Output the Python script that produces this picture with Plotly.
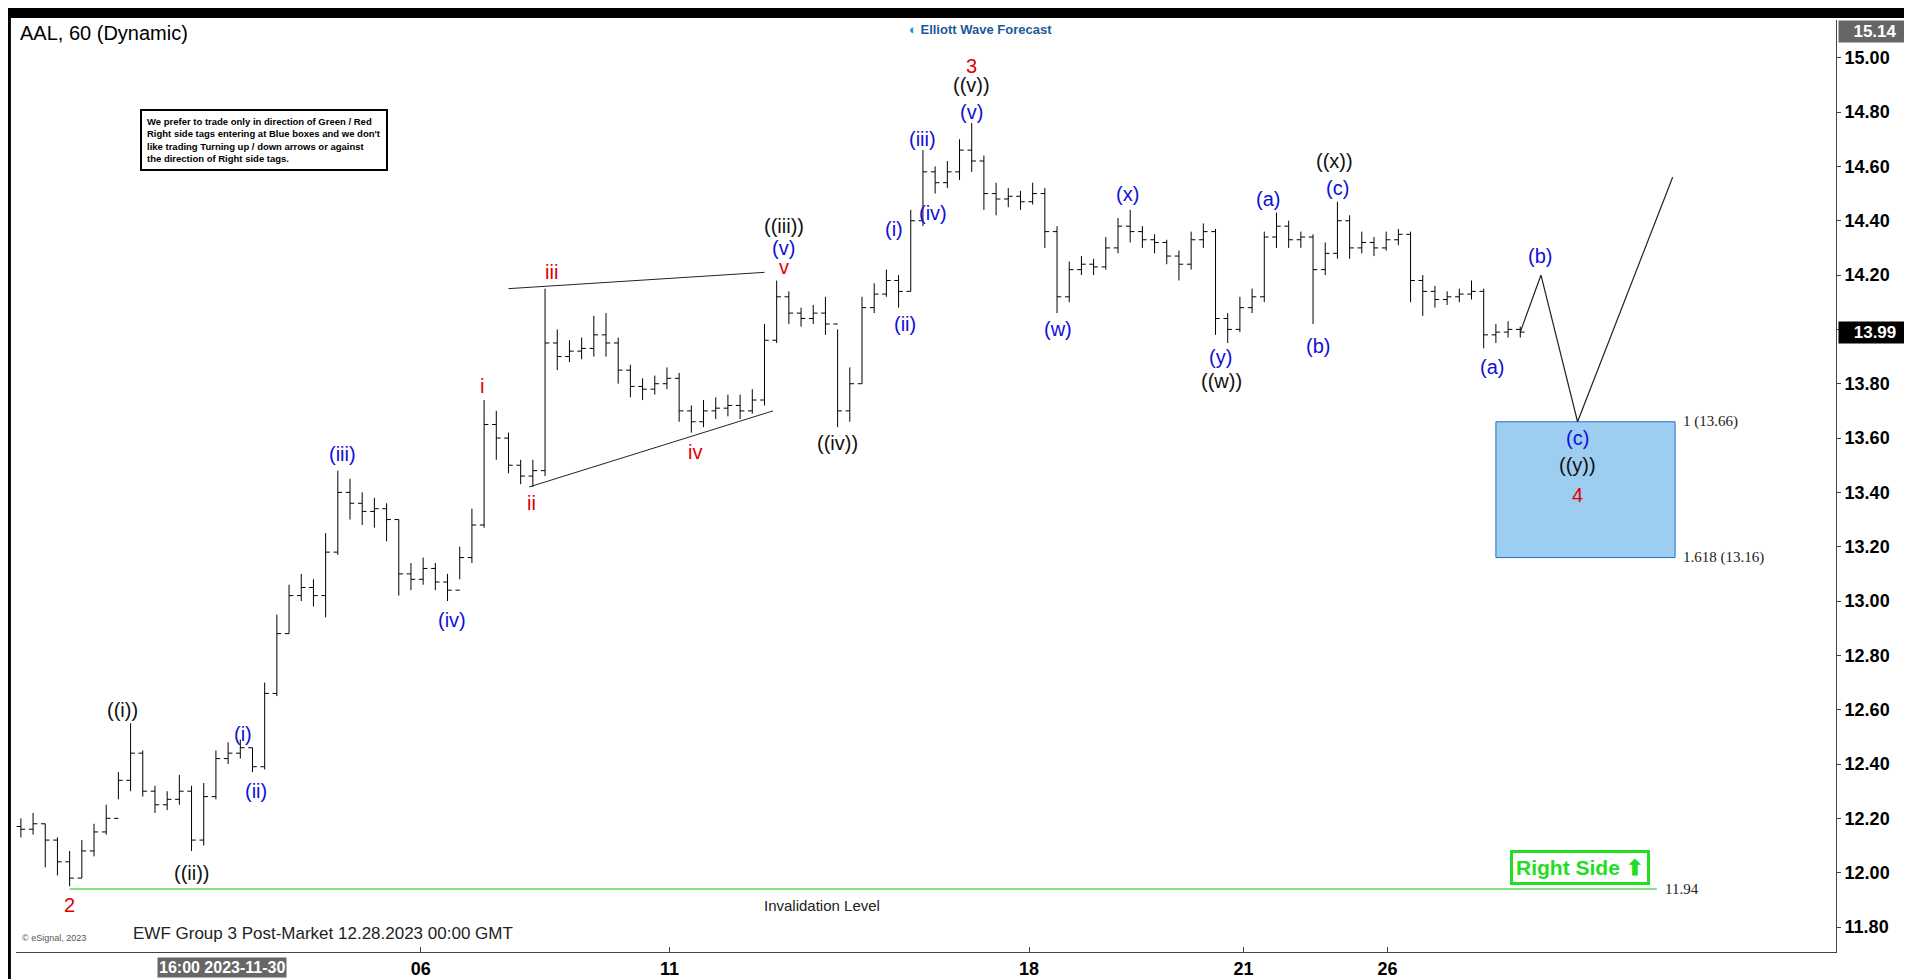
import plotly.graph_objects as go

# hourly AAL bars, x = bar index
close = [12.17, 12.16, 12.18, 12.12, 12.04, 11.98, 12.08, 12.15, 12.20, 12.34,
         12.44, 12.30, 12.25, 12.27, 12.30, 12.12, 12.28, 12.42, 12.44, 12.46,
         12.39, 12.66, 12.88, 13.02, 13.05, 13.02, 13.18, 13.40, 13.36, 13.33,
         13.34, 13.30, 13.10, 13.08, 13.12, 13.07, 13.04, 13.16, 13.28, 13.65,
         13.60, 13.50, 13.46, 13.48, 13.95, 13.90, 13.92, 13.93, 13.98, 13.95,
         13.85, 13.79, 13.78, 13.80, 13.82, 13.70, 13.66, 13.70, 13.71, 13.72,
         13.70, 13.74, 13.96, 14.12, 14.06, 14.04, 14.06, 14.02, 13.70, 13.80,
         14.08, 14.13, 14.18, 14.14, 14.40, 14.58, 14.54, 14.58, 14.66, 14.62,
         14.50, 14.48, 14.49, 14.47, 14.50, 14.36, 14.12, 14.22, 14.24, 14.23,
         14.30, 14.38, 14.36, 14.33, 14.32, 14.27, 14.24, 14.33, 14.36, 14.04,
         14.00, 14.08, 14.12, 14.34, 14.38, 14.33, 14.34, 14.22, 14.28, 14.40,
         14.30, 14.32, 14.30, 14.33, 14.35, 14.18, 14.14, 14.11, 14.12, 14.13,
         14.14, 13.98, 13.99, 14.00, 13.99]
high = [12.20, 12.20, 12.22, 12.18, 12.13, 12.08, 12.12, 12.18, 12.25, 12.37,
        12.55, 12.45, 12.32, 12.30, 12.36, 12.32, 12.33, 12.45, 12.48, 12.49,
        12.46, 12.70, 12.95, 13.06, 13.10, 13.08, 13.25, 13.48, 13.45, 13.40,
        13.38, 13.36, 13.30, 13.14, 13.16, 13.14, 13.10, 13.20, 13.34, 13.74,
        13.70, 13.62, 13.52, 13.52, 14.15, 14.00, 13.96, 13.97, 14.05, 14.06,
        13.97, 13.87, 13.82, 13.83, 13.86, 13.84, 13.72, 13.74, 13.75, 13.76,
        13.76, 13.78, 14.02, 14.18, 14.14, 14.08, 14.09, 14.12, 14.00, 13.86,
        14.12, 14.17, 14.22, 14.20, 14.44, 14.66, 14.60, 14.62, 14.70, 14.76,
        14.64, 14.54, 14.52, 14.51, 14.54, 14.52, 14.38, 14.25, 14.27, 14.26,
        14.34, 14.41, 14.44, 14.38, 14.35, 14.33, 14.29, 14.36, 14.39, 14.37,
        14.06, 14.12, 14.15, 14.36, 14.43, 14.40, 14.36, 14.35, 14.32, 14.47,
        14.42, 14.36, 14.34, 14.36, 14.37, 14.36, 14.20, 14.16, 14.14, 14.15,
        14.18, 14.15, 14.02, 14.03, 14.01]
low = [12.12, 12.13, 12.14, 12.02, 11.99, 11.95, 11.98, 12.06, 12.14, 12.27,
       12.30, 12.28, 12.22, 12.23, 12.25, 12.08, 12.10, 12.27, 12.40, 12.42,
       12.37, 12.38, 12.65, 12.88, 13.00, 12.98, 12.94, 13.17, 13.30, 13.28,
       13.27, 13.22, 13.02, 13.04, 13.06, 13.04, 13.00, 13.08, 13.14, 13.27,
       13.52, 13.47, 13.43, 13.42, 13.46, 13.85, 13.88, 13.89, 13.90, 13.90,
       13.80, 13.75, 13.74, 13.76, 13.78, 13.66, 13.62, 13.64, 13.67, 13.68,
       13.67, 13.69, 13.72, 13.95, 14.02, 14.01, 14.02, 13.98, 13.64, 13.66,
       13.80, 14.06, 14.12, 14.08, 14.14, 14.38, 14.50, 14.52, 14.55, 14.58,
       14.44, 14.42, 14.45, 14.44, 14.46, 14.30, 14.06, 14.10, 14.20, 14.20,
       14.22, 14.28, 14.32, 14.30, 14.28, 14.24, 14.18, 14.22, 14.30, 13.98,
       13.95, 13.99, 14.06, 14.10, 14.30, 14.30, 14.30, 14.02, 14.20, 14.26,
       14.26, 14.28, 14.27, 14.29, 14.31, 14.10, 14.05, 14.08, 14.09, 14.10,
       14.11, 13.93, 13.95, 13.97, 13.97]
open_ = [close[0]] + close[:-1]
bar_x = list(range(len(close)))

# projected path and zones
proj_x = [124, 125.7, 128.7, 136.5]
proj_y = [13.99, 14.20, 13.66, 14.56]
box_x = [122, 136.7]
box_y = [13.16, 13.66]
invalidation = 11.94
tri_upper = ([41, 62], [14.15, 14.21])
tri_lower = ([42.7, 62.7], [13.42, 13.70])

day_ticks = [33.8, 54.2, 83.7, 101.3, 113.1]
day_labels = ["06", "11", "18", "21", "26"]
price_ticks = [11.8 + 0.2 * k for k in range(17)]

# wave labels: text, x, y, colour
BLUE, RED, BLK = "#1010d8", "#e00000", "#111111"
waves = [
    ("2", 5, 11.88, RED), ("((i))", 9.3, 12.60, BLK), ("((ii))", 15, 12.00, BLK),
    ("(i)", 19.2, 12.51, BLUE), ("(ii)", 20.3, 12.30, BLUE), ("(iii)", 27.4, 13.54, BLUE),
    ("(iv)", 36.4, 12.93, BLUE), ("i", 38.8, 13.79, RED), ("ii", 42.9, 13.36, RED),
    ("iii", 44.5, 14.21, RED), ("iv", 56.3, 13.55, RED), ("v", 63.6, 14.23, RED),
    ("(v)", 63.6, 14.30, BLUE), ("((iii))", 63.6, 14.38, BLK), ("((iv))", 68, 13.58, BLK),
    ("(i)", 72.6, 14.37, BLUE), ("(ii)", 73.5, 14.02, BLUE), ("(iii)", 75, 14.70, BLUE),
    ("(iv)", 75.8, 14.43, BLUE), ("(v)", 79, 14.80, BLUE), ("((v))", 79, 14.90, BLK),
    ("3", 79, 14.97, RED), ("(w)", 86.1, 14.00, BLUE), ("(x)", 91.8, 14.50, BLUE),
    ("(y)", 99.4, 13.90, BLUE), ("((w))", 99.5, 13.81, BLK), ("(a)", 103.3, 14.48, BLUE),
    ("(b)", 107.4, 13.94, BLUE), ("(c)", 109, 14.52, BLUE), ("((x))", 108.8, 14.62, BLK),
    ("(a)", 121.7, 13.86, BLUE), ("(b)", 125.6, 14.27, BLUE), ("(c)", 128.7, 13.60, BLUE),
    ("((y))", 128.7, 13.50, BLK), ("4", 128.7, 13.39, RED),
]

fig = go.Figure()
fig.add_trace(go.Ohlc(x=bar_x, open=open_, high=high, low=low, close=close,
                      increasing_line_color="black", decreasing_line_color="black",
                      line_width=1, tickwidth=0.35, hoverinfo="skip"))
fig.add_trace(go.Scatter(x=proj_x, y=proj_y, mode="lines",
                         line=dict(color="#222", width=1.2), hoverinfo="skip"))
for seg in (tri_upper, tri_lower):
    fig.add_trace(go.Scatter(x=seg[0], y=seg[1], mode="lines",
                             line=dict(color="#222", width=1), hoverinfo="skip"))
fig.add_trace(go.Scatter(x=[5, 135.2], y=[invalidation] * 2, mode="lines",
                         line=dict(color="#5ad85a", width=1.5), hoverinfo="skip"))

fig.add_shape(type="rect", x0=box_x[0], x1=box_x[1], y0=box_y[0], y1=box_y[1],
              fillcolor="#9dcdf0", line=dict(color="#2a6fc0", width=1), layer="below")

ann = []
for t, x, y, c in waves:
    ann.append(dict(x=x, y=y, text=t, showarrow=False,
                    font=dict(size=20, color=c, family="Arial, Liberation Sans")))

side = dict(showarrow=False, xanchor="left", font=dict(size=15, color="#222", family="Liberation Serif"))
ann += [
    dict(x=137.2, y=13.66, text="1 (13.66)", **side),
    dict(x=137.2, y=13.16, text="1.618 (13.16)", **side),
    dict(x=135.7, y=11.94, text="11.94", **side),
    dict(x=66.7, y=11.88, text="Invalidation Level", showarrow=False,
         font=dict(size=15, color="#222", family="Arial, Liberation Sans")),
    dict(x=128.9, y=12.02, text="<b>Right Side ⬆</b>", showarrow=False,
         font=dict(size=21, color="#22dd22", family="Arial, Liberation Sans"),
         bordercolor="#22dd22", borderwidth=3, borderpad=3, bgcolor="white"),
    dict(x=17.5, y=-0.005, xref="x", yref="paper", yanchor="top", text="<b>16:00 2023-11-30</b>",
         showarrow=False, bgcolor="#666", font=dict(size=16, color="white", family="Arial, Liberation Sans")),
    dict(x=1.001, y=13.99, xref="paper", xanchor="left", text="<b>13.99</b>", showarrow=False,
         bgcolor="black", font=dict(size=17, color="white", family="Arial, Liberation Sans"), width=70),
    dict(x=1.001, y=1.0, xref="paper", yref="paper", xanchor="left", yanchor="top", text="<b>15.14</b>",
         showarrow=False, bgcolor="#666", font=dict(size=17, color="white", family="Arial, Liberation Sans"),
         width=70),
    dict(x=0.001, y=1.0, xref="paper", yref="paper", xanchor="left", yanchor="top",
         text="AAL, 60 (Dynamic)", showarrow=False,
         font=dict(size=20, color="black", family="Arial, Liberation Sans")),
    dict(x=0.53, y=1.0, xref="paper", yref="paper", yanchor="top",
         text="<b><span style='color:#1a8fd0'>◐</span> Elliott Wave Forecast</b>", showarrow=False,
         font=dict(size=13, color="#1a5a9a", family="Arial, Liberation Sans")),
    dict(x=0.068, y=0.905, xref="paper", yref="paper", xanchor="left", yanchor="top", align="left",
         text="<b>We prefer to trade only in direction of Green / Red<br>Right side tags entering at Blue boxes and we don't<br>"
              "like trading Turning up / down arrows or against<br>the direction of Right side tags.</b>",
         showarrow=False, bordercolor="black", borderwidth=2, borderpad=5, bgcolor="white",
         font=dict(size=9.5, color="black", family="Arial, Liberation Sans")),
    dict(x=0.063, y=0.008, xref="paper", yref="paper", xanchor="left", yanchor="bottom",
         text="EWF Group 3 Post-Market 12.28.2023 00:00 GMT", showarrow=False,
         font=dict(size=17, color="#222", family="Arial, Liberation Sans")),
    dict(x=0.002, y=0.008, xref="paper", yref="paper", xanchor="left", yanchor="bottom",
         text="© eSignal, 2023", showarrow=False, font=dict(size=9, color="#555", family="Arial, Liberation Sans")),
]

# black frame around the window
frame = [(-0.01, 1.05, 1.0021, 1.02), (-0.01, 1.05, -0.0290, -0.05),
         (-0.01, -0.0028, -0.05, 1.02), (1.0440, 1.06, -0.05, 1.02)]
for x0, x1, y0, y1 in frame:
    fig.add_shape(type="rect", xref="paper", yref="paper", x0=x0, x1=x1, y0=y0, y1=y1,
                  fillcolor="black", line_width=0)

fig.update_layout(
    width=1912, height=979, margin=dict(l=8, r=84, t=12, b=32),
    paper_bgcolor="white", plot_bgcolor="white", showlegend=False,
    annotations=ann,
    xaxis=dict(range=[0.6, 149.9], tickvals=day_ticks, ticktext=day_labels, showgrid=False,
               zeroline=False, showline=True, linecolor="#444", ticks="inside", ticklen=5,
               tickcolor="#444", rangeslider=dict(visible=False),
               tickfont=dict(size=18, color="black", family="Arial, Liberation Sans", weight="bold")),
    yaxis=dict(side="right", range=[11.708, 15.139], tickvals=price_ticks,
               ticktext=[f"{v:.2f}" for v in price_ticks], showgrid=False, zeroline=False,
               showline=True, linecolor="#444", ticks="outside", ticklen=4, tickcolor="#444",
               tickfont=dict(size=18, color="black", family="Arial, Liberation Sans", weight="bold")),
)

fig.write_html("out.html")
